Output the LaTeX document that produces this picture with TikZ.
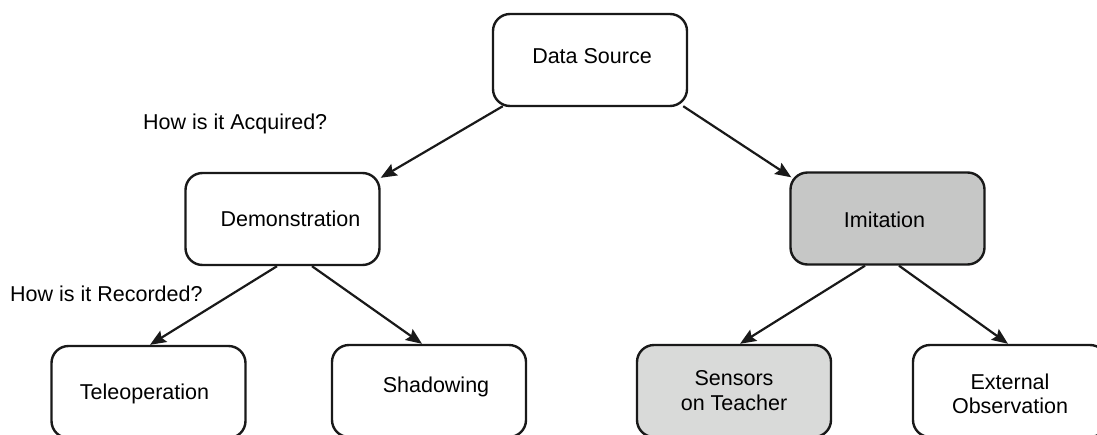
\documentclass[tikz,border=0pt]{standalone}
\usepackage{fontspec}
\setmainfont{Liberation Sans}
\usetikzlibrary{arrows.meta,calc}
\definecolor{imgray}{HTML}{C6C7C6}
\definecolor{sengray}{HTML}{D9DAD9}
\begin{document}
\begin{tikzpicture}[x=1pt,y=-1pt,
  box/.style={draw=black!90, line width=2.4pt, rounded corners=17pt,
    minimum width=194pt, minimum height=92pt, inner sep=0pt,
    font=\fontsize{21.5}{25}\selectfont, align=center},
  txt/.style={font=\fontsize{21.5}{25}\selectfont, inner sep=0pt, align=center},
  lbl/.style={font=\fontsize{21.5}{25}\selectfont, inner sep=0pt, anchor=west},
  arr/.style={line width=2.2pt, draw=black!90,
    -{Stealth[length=16pt,width=13pt,inset=2.5pt]}}]
  \useasboundingbox (0,0) rectangle (1097,434);

  % tree boxes and their captions
  \node[box] (ds)  at (590,60) {};
  \node[txt] (dstxt) at ($(ds.center)+(2,-4)$) {Data Source};
  \node[box] (dem) at (282.5,219) {};
  \node[txt] (demtxt) at ($(dem.center)+(8,0)$) {Demonstration};
  \node[box, fill=imgray] (im) at (887.5,218.5) {};
  \node[txt] (imtxt) at ($(im.center)+(-3,1)$) {Imitation};
  \node[box] (tel) at (148.5,392) {};
  \node[txt] (teltxt) at ($(tel.center)+(-4,2)$) {Teleoperation};
  \node[box] (sha) at (429,391) {};
  \node[txt] (shatxt) at ($(sha.center)+(7,-4)$) {Shadowing};
  \node[box, fill=sengray] (sen) at (734,391) {Sensors\\on Teacher};
  \node[box] (ext) at (1010,391) {};
  \node[txt, font=\fontsize{21.5}{24}\selectfont] (exttxt) at ($(ext.center)+(0,3)$) {External\\Observation};

  % question labels
  \node[lbl] (qa) at (143,124) {How is it Acquired?};
  \node[lbl] (qr) at (10,294) {How is it Recorded?};

  % connectors
  \draw[arr] ($(ds.south west)+(11,-1)$) -- ($(dem.north east)+(0,6)$);
  \draw[arr] ($(ds.south east)+(-5,-1)$) -- ($(im.north west)+(2,6)$);
  \draw[arr] ($(dem.south)+(-5.5,0)$) -- ($(tel.north)+(1.5,0)$);
  \draw[arr] ($(dem.south)+(29.5,0)$) -- ($(sha.north)+(-7,0)$);
  \draw[arr] ($(im.south)+(-22.5,0)$) -- ($(sen.north)+(6,0)$);
  \draw[arr] ($(im.south)+(11.5,0)$) -- ($(ext.north)+(-2,0)$);
\end{tikzpicture}
\end{document}
